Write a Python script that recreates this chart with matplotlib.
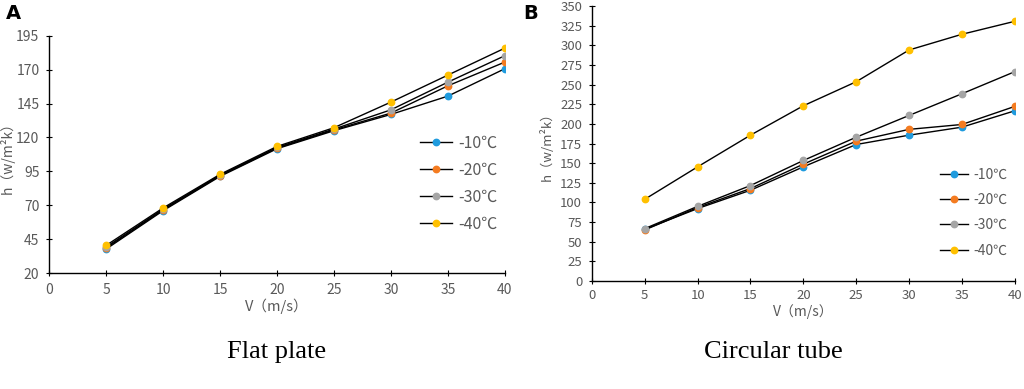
import matplotlib.pyplot as plt

plt.rcParams['font.family'] = ['Noto Sans CJK SC', 'DejaVu Sans']

v = [5, 10, 15, 20, 25, 30, 35, 40]
labels = ['-10℃', '-20℃', '-30℃', '-40℃']
colors = ['#1F9BDE', '#F47B20', '#A5A5A5', '#FFC000']

# flat plate
h_plate = [
    [37.7, 66.0, 91.3, 111.7, 125.0, 137.0, 150.5, 170.7],
    [38.5, 66.6, 91.8, 112.2, 125.6, 138.0, 158.1, 175.6],
    [39.2, 67.2, 92.2, 112.7, 126.2, 140.4, 160.8, 180.3],
    [40.4, 68.0, 92.8, 113.4, 127.2, 146.1, 166.0, 185.9],
]

# circular tube
h_tube = [
    [65.8, 92.2, 115.5, 145.3, 173.7, 185.6, 195.8, 216.6],
    [65.0, 93.5, 117.7, 148.7, 178.0, 193.0, 199.2, 222.2],
    [66.7, 95.0, 121.5, 153.4, 183.0, 210.7, 238.3, 266.4],
    [104.0, 145.3, 185.6, 223.0, 253.6, 294.0, 314.0, 330.5],
]

fig = plt.figure(figsize=(10.24, 3.89), dpi=100)
ax1 = fig.add_axes([0.048, 0.298, 0.445, 0.61])
ax2 = fig.add_axes([0.578, 0.2776, 0.413, 0.707])

tick_col = '#595959'


def draw(ax, data, yticks, legend_pos, fs, tfs, lsp, xpad, ylab_x):
    for i in range(4):
        ax.plot(v, data[i], color='black', lw=1.0, marker='o', markersize=4.6,
                markerfacecolor=colors[i], markeredgecolor=colors[i], label=labels[i])
    ax.set_xlim(0, 40)
    ax.set_xticks(range(0, 41, 5))
    ax.set_ylim(yticks[0], yticks[-1])
    ax.set_yticks(yticks)
    for s in ['top', 'right']:
        ax.spines[s].set_visible(False)
    for s in ['left', 'bottom']:
        ax.spines[s].set_linewidth(1.0)
    ax.tick_params(direction='inout', length=4, width=0.8, labelcolor=tick_col, labelsize=tfs)
    ax.tick_params(axis='y', pad=5)
    ax.tick_params(axis='x', pad=xpad)
    ax.set_xlabel('V（m/s）', color=tick_col, fontsize=tfs + 0.5, labelpad=1)
    ax.set_ylabel('h（w/m²k）', color=tick_col, fontsize=tfs)
    ax.yaxis.set_label_coords(ylab_x, 0.5)
    leg = ax.legend(loc='upper left', bbox_to_anchor=legend_pos, bbox_transform=fig.transFigure,
                    frameon=False, fontsize=fs, handlelength=2.0, handletextpad=0.4,
                    labelspacing=lsp)
    for t in leg.get_texts():
        t.set_color(tick_col)


draw(ax1, h_plate, list(range(20, 196, 25)), (0.396, 0.69), 11.5, 10, 0.62, 5, -0.075)
draw(ax2, h_tube, list(range(0, 351, 25)), (0.906, 0.6), 10, 9.5, 0.8, 4, -0.09)

fig.text(0.006, 0.965, 'A', fontsize=14, fontweight='bold', family='DejaVu Sans', va='center')
fig.text(0.511, 0.965, 'B', fontsize=14, fontweight='bold', family='DejaVu Sans', va='center')
fig.text(0.27, 0.095, 'Flat plate', fontsize=19, family='Liberation Serif', ha='center', va='center')
fig.text(0.755, 0.095, 'Circular tube', fontsize=19, family='Liberation Serif', ha='center', va='center')

fig.savefig('out.png', dpi=100)
